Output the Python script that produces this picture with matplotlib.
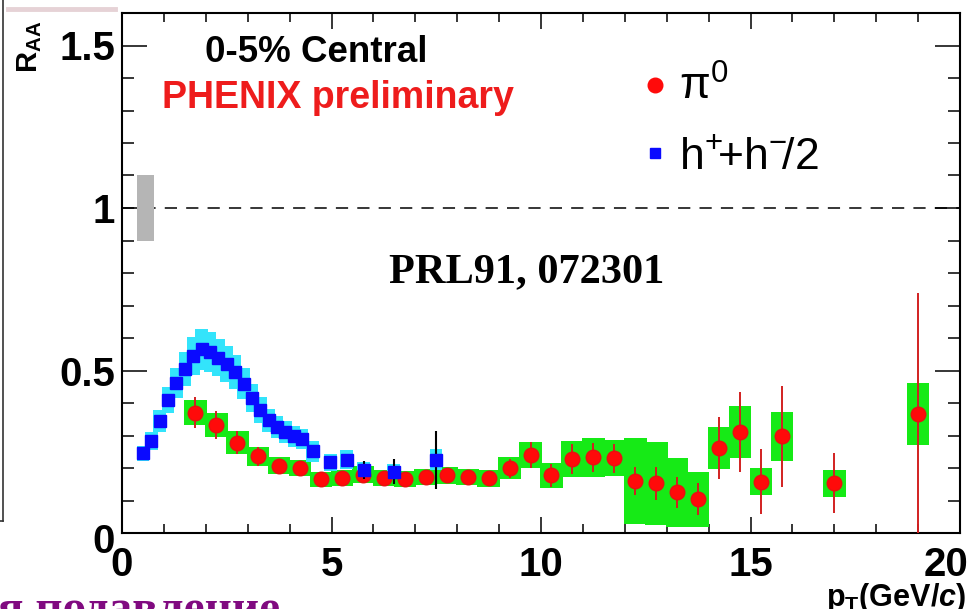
import numpy as np
import matplotlib
matplotlib.use('Agg')
import matplotlib.pyplot as plt
from matplotlib.lines import Line2D
from matplotlib.ticker import MultipleLocator
from matplotlib.transforms import ScaledTranslation

plt.rcParams['font.family'] = ['Liberation Sans', 'DejaVu Sans']
plt.rcParams['mathtext.fontset'] = 'custom'
plt.rcParams['mathtext.rm'] = 'Liberation Sans'
plt.rcParams['mathtext.it'] = 'Liberation Sans:italic'
plt.rcParams['mathtext.bf'] = 'Liberation Sans:bold'
if 'mathtext.bfit' in plt.rcParams:
    plt.rcParams['mathtext.bfit'] = 'Liberation Sans:bold:italic'

# pi0 R_AA (0-5% central), stat errors and systematic box half-heights
pi_x = [1.75, 2.25, 2.75, 3.25, 3.75, 4.25, 4.75, 5.25, 5.75, 6.25, 6.75,
        7.25, 7.75, 8.25, 8.75, 9.25, 9.75, 10.25, 10.75, 11.25, 11.75, 12.25,
        12.75, 13.25, 13.75, 14.25, 14.75, 15.25, 15.75, 17.0, 19.0]
pi_y = [0.370, 0.332, 0.278, 0.236, 0.207, 0.199, 0.166, 0.170, 0.180,
        0.170, 0.166, 0.172, 0.177, 0.172, 0.168, 0.199, 0.240, 0.178, 0.228,
        0.233, 0.230, 0.160, 0.153, 0.125, 0.104, 0.262, 0.312, 0.158, 0.297,
        0.153, 0.366]
pi_err = [0.048, 0.043, 0.036, 0.029, 0.020, 0.018, 0.015, 0.015, 0.015,
          0.015, 0.015, 0.015, 0.015, 0.015, 0.016, 0.030, 0.040, 0.035, 0.045,
          0.045, 0.045, 0.042, 0.050, 0.048, 0.050, 0.095, 0.123, 0.100, 0.154,
          0.092, 0.374]
pi_sys = [0.038, 0.037, 0.035, 0.030, 0.026, 0.025, 0.023, 0.025, 0.025,
          0.025, 0.025, 0.025, 0.025, 0.025, 0.025, 0.034, 0.041, 0.038, 0.056,
          0.060, 0.056, 0.133, 0.128, 0.106, 0.085, 0.064, 0.080, 0.041, 0.074,
          0.041, 0.095]

# charged hadrons (h+ + h-)/2
h_x = [0.5, 0.7, 0.9, 1.1, 1.3, 1.5, 1.7, 1.9, 2.1, 2.3, 2.5, 2.7, 2.9, 3.1,
       3.3, 3.5, 3.7, 3.9, 4.1, 4.3, 4.55, 4.97, 5.36, 5.77, 6.48, 7.49]
h_y = [0.245, 0.282, 0.345, 0.408, 0.462, 0.505, 0.545, 0.565, 0.557, 0.540,
       0.521, 0.496, 0.460, 0.415, 0.378, 0.347, 0.326, 0.311, 0.298, 0.288,
       0.252, 0.217, 0.225, 0.195, 0.189, 0.225]
h_err = [0, 0, 0, 0, 0, 0, 0, 0, 0, 0, 0, 0, 0, 0, 0, 0, 0, 0, 0, 0,
         0.010, 0.010, 0.012, 0.028, 0.039, 0.089]
h_sys = [0.022, 0.028, 0.034, 0.040, 0.046, 0.052, 0.058, 0.062, 0.062, 0.058,
         0.055, 0.052, 0.048, 0.044, 0.040, 0.036, 0.034, 0.033, 0.032, 0.031,
         0.032, 0.027, 0.029, 0.024, 0.024, 0.032]

norm_x, norm_half = 0.56, 0.1   # normalisation uncertainty box at R_AA = 1

x_ticks = [0, 5, 10, 15, 20]
y_ticks = [0, 0.5, 1, 1.5]
y_ticklabels = ['0', '0.5', '1', '1.5']

fig = plt.figure(figsize=(9.72, 6.09), dpi=100)
ax = fig.add_axes([122 / 972, 1 - 533 / 609, 838 / 972, 520 / 609])

green = '#16ea16'
cyan = '#33e4fb'

ax.axhline(1, color='black', lw=1.1, ls=(0, (8, 6)), zorder=1)
ax.bar([norm_x], [2 * norm_half], bottom=1 - norm_half, width=0.42,
       color='#b5b5b5', zorder=2)

pi_x_a = np.array(pi_x)
pi_y_a = np.array(pi_y)
pi_sys_a = np.array(pi_sys)
ax.bar(pi_x_a, 2 * pi_sys_a, bottom=pi_y_a - pi_sys_a, width=0.54,
       color=green, zorder=2)

h_x_a = np.array(h_x)
h_y_a = np.array(h_y)
h_sys_a = np.array(h_sys)
ax.bar(h_x_a, 2 * h_sys_a, bottom=h_y_a - h_sys_a, width=0.3,
       color=cyan, zorder=3)

ax.errorbar(pi_x, pi_y, yerr=pi_err, fmt='o', color='#ff0a0a', ms=10.5,
            mec='#e81010', ecolor='#d22020', elinewidth=1.4, capsize=0,
            zorder=4)
ax.errorbar(h_x, h_y, yerr=h_err, fmt='s', color='#0a0aff', ms=8.8,
            mec='#0a0aff', ecolor='black', elinewidth=1.5, capsize=0,
            zorder=5)

ax.set_xlim(0, 20)
ax.set_ylim(0, 1.6)
ax.set_xticks(x_ticks)
ax.set_xticklabels([str(t) for t in x_ticks], fontweight='bold', fontsize=29)
ax.set_yticks(y_ticks)
ax.set_yticklabels(y_ticklabels, fontweight='bold', fontsize=29)
ax.xaxis.set_minor_locator(MultipleLocator(1))
ax.yaxis.set_minor_locator(MultipleLocator(0.1))
ax.tick_params(which='both', direction='in', top=True, right=True,
               width=1.1, color='black')
ax.tick_params(axis='x', which='major', length=11.5, pad=9)
ax.tick_params(axis='x', which='minor', length=6.5)
ax.tick_params(axis='y', which='major', length=18, pad=5)
ax.tick_params(axis='y', which='minor', length=8.5)
for s in ax.spines.values():
    s.set_linewidth(1.5)

# ROOT-like nudges of the end labels
last_x = ax.xaxis.get_major_ticks()[-1].label1
last_x.set_horizontalalignment('right')
last_x.set_transform(last_x.get_transform()
                     + ScaledTranslation(0.08, 0, fig.dpi_scale_trans))
first_y = ax.yaxis.get_major_ticks()[0].label1
first_y.set_transform(first_y.get_transform()
                      + ScaledTranslation(0, -0.05, fig.dpi_scale_trans))

# labels
fig.text(30 / 972, 1 - 21 / 609, r'$\mathbf{R}_{\mathbf{AA}}$', rotation=90,
         ha='center', va='top', fontsize=21)
xlab = r'$\mathbf{p}_{\mathbf{T}}\mathbf{(GeV/}\mathbfit{c}\mathbf{)}$' \
    if 'mathtext.bfit' in plt.rcParams else \
    r'$\mathbf{p}_{\mathbf{T}}\mathbf{(GeV/}\mathit{c}\mathbf{)}$'
fig.text(966 / 972, 1 - 606 / 609, xlab, ha='right', va='baseline',
         fontsize=22)

ax.text(0.099, 0.906, '0-5% Central', transform=ax.transAxes, fontsize=26.5,
        fontweight='bold', color='black', ha='left', va='baseline')
ax.text(0.048, 0.817, 'PHENIX preliminary', transform=ax.transAxes,
        fontsize=27, fontweight='bold', color='#ee1c1c', ha='left',
        va='baseline')
ax.text(0.483, 0.502, 'PRL91, 072301', transform=ax.transAxes, fontsize=30.5,
        fontweight='bold', family='Liberation Serif', ha='center',
        va='center')

handles = [Line2D([], [], ls='none', marker='o', ms=10.5, color='#ff0a0a'),
           Line2D([], [], ls='none', marker='s', ms=7.5, color='#0a0aff')]
labels = [r'$\mathrm{\pi}^{0}$', r'$\mathrm{h}^{+}\!\mathrm{+h}^{-}\!\mathrm{/2}$']
ax.legend(handles, labels, loc='upper left', bbox_to_anchor=(0.6146, 0.898),
          frameon=False, fontsize=32, handletextpad=0.15, labelspacing=0.62,
          handlelength=0.8, borderpad=0, borderaxespad=0)

# pieces of the surrounding slide
fig.add_artist(Line2D([3 / 972, 3 / 972], [1, 1 - 521 / 609], color='#333333',
                      lw=1.2, transform=fig.transFigure))
fig.add_artist(Line2D([0, 3 / 972], [1 - 521 / 609, 1 - 521 / 609],
                      color='#333333', lw=1.2, transform=fig.transFigure))
fig.add_artist(Line2D([8 / 972, 115 / 972], [1 - 9 / 609, 1 - 9 / 609],
                      color='#e6d2d6', lw=3.5, transform=fig.transFigure))
fig.text(-2 / 972, 1 - 622 / 609, 'я подавление', fontsize=34,
         fontweight='bold', family='Liberation Serif', color='#800a80',
         ha='left', va='baseline')

fig.savefig('out.png', dpi=100)
